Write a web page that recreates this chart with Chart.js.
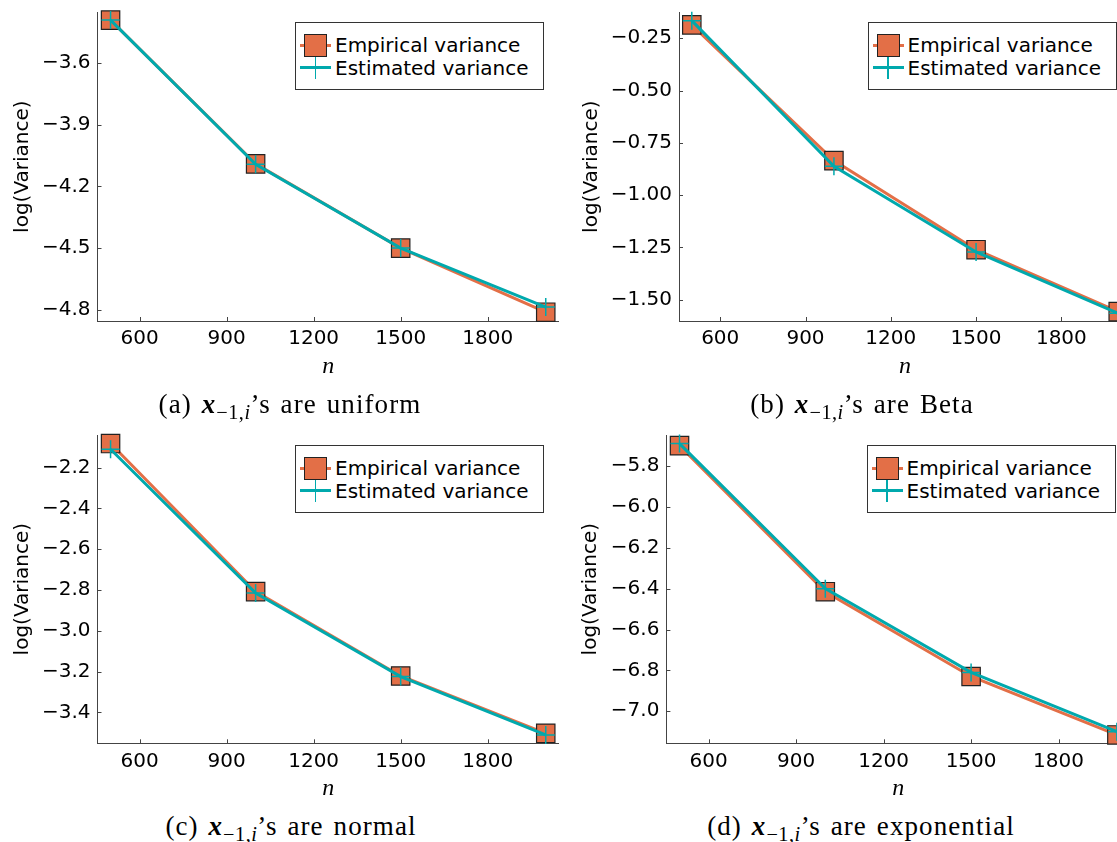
<!DOCTYPE html>
<html>
<head>
<meta charset="utf-8">
<script src="https://cdn.jsdelivr.net/npm/chart.js@4.4.1/dist/chart.umd.min.js"></script>
<style>
  html, body { margin: 0; padding: 0; background: #fff; }
  body { width: 1117px; height: 842px; overflow: hidden; position: relative; font-family: "DejaVu Sans", sans-serif; }
  .panel { position: absolute; }
  .panel canvas { position: absolute; left: 0; top: 0; }
  .legend { position: absolute; width: 249px; height: 68px; border: 1px solid #333; background: #fff; box-sizing: border-box; font-size: 20px; color: #000; }
  .row { position: absolute; left: 0; width: 100%; height: 22px; }
  .row span.txt { position: absolute; left: 39px; top: 0; line-height: 22px; white-space: nowrap; }
  .sym { position: absolute; left: 4px; top: 0; width: 31px; height: 22px; }
  .sym .ln { position: absolute; left: 0; top: 9.5px; width: 31px; height: 3px; }
  .sym .sq { position: absolute; left: 4px; top: -0.5px; width: 23px; height: 23px; box-sizing: border-box; border: 1.3px solid #222; }
  .sym .vl { position: absolute; left: 14.8px; top: 0; width: 1.5px; height: 22px; }
  .caption { position: absolute; height: 30px; line-height: 30px; font-family: "Liberation Serif", serif; font-size: 27px; letter-spacing: 1.1px; word-spacing: 2px; white-space: nowrap; transform: translateX(-50%); color: #000; }
  .caption sub { font-size: 0.75em; vertical-align: -0.3em; line-height: 0; letter-spacing: 0.5px; }
</style>
</head>
<body>
<div class="panel" id="pa"><canvas id="ca"></canvas></div>
<div class="panel" id="pb"><canvas id="cb"></canvas></div>
<div class="panel" id="pc"><canvas id="cc"></canvas></div>
<div class="panel" id="pd"><canvas id="cd"></canvas></div>

<script>
// sample sizes and tick labels
const nValues = [500, 1000, 1500, 2000];
const xTicks = [600, 900, 1200, 1500, 1800];
const xLimits = [455, 2045];

// (a) uniform
const empA = [-3.39, -4.09, -4.50, -4.812];
const estA = [-3.39, -4.092, -4.50, -4.787];
const yTicksA = [-4.8, -4.5, -4.2, -3.9, -3.6];
const yLimitsA = [-4.855, -3.352];

// (b) Beta
const empB = [-0.186, -0.835, -1.261, -1.557];
const estB = [-0.166, -0.862, -1.272, -1.565];
const yTicksB = [-1.50, -1.25, -1.00, -0.75, -0.50, -0.25];
const yLimitsB = [-1.602, -0.126];

// (c) normal
const empC = [-2.082, -2.808, -3.222, -3.503];
const estC = [-2.11, -2.815, -3.225, -3.511];
const yTicksC = [-3.4, -3.2, -3.0, -2.8, -2.6, -2.4, -2.2];
const yLimitsC = [-3.552, -2.04];

// (d) exponential
const empD = [-5.70, -6.415, -6.83, -7.116];
const estD = [-5.69, -6.40, -6.81, -7.10];
const yTicksD = [-7.0, -6.8, -6.6, -6.4, -6.2, -6.0, -5.8];
const yLimitsD = [-7.157, -5.648];

const seriesLabels = ["Empirical variance", "Estimated variance"];
const captions = ["uniform", "Beta", "normal", "exponential"];

const ORANGE = "#E36F47";
const TEAL = "#00A9AD";
const AXIS = "#444";

// inward tick marks, drawn under the data
const innerTicks = {
  id: "innerTicks",
  beforeDatasetsDraw(chart) {
    const { ctx, chartArea, scales: { x, y } } = chart;
    ctx.save();
    ctx.strokeStyle = AXIS;
    ctx.lineWidth = 1;
    x.ticks.forEach(t => {
      const px = Math.round(x.getPixelForValue(t.value)) + 0.5;
      ctx.beginPath();
      ctx.moveTo(px, chartArea.bottom);
      ctx.lineTo(px, chartArea.bottom - 4);
      ctx.stroke();
    });
    y.ticks.forEach(t => {
      const py = Math.round(y.getPixelForValue(t.value)) + 0.5;
      ctx.beginPath();
      ctx.moveTo(chartArea.left, py);
      ctx.lineTo(chartArea.left + 4, py);
      ctx.stroke();
    });
    ctx.restore();
  }
};

const panels = [
  { key: "a", left: 0,   top: 0,   w: 560, h: 380, padT: 12.3, padR: 1.2, yAxisW: 97.5,  xAxisH: 59,   yTitlePad: 11,   nPad: 1.5, emp: empA, est: estA, yTicks: yTicksA, yLim: yLimitsA, dec: 1, legL: 295,   legT: 22,  capX: 290, capT: 389 },
  { key: "b", left: 560, top: 0,   w: 580, h: 380, padT: 12.3, padR: 9,   yAxisW: 119,   xAxisH: 59,   yTitlePad: 20,   nPad: 1.5, emp: empB, est: estB, yTicks: yTicksB, yLim: yLimitsB, dec: 2, legL: 867.5, legT: 22,  capX: 862, capT: 389 },
  { key: "c", left: 0,   top: 420, w: 560, h: 380, padT: 15,   padR: 1.2, yAxisW: 97.5,  xAxisH: 56.7, yTitlePad: 11,   nPad: -1,  emp: empC, est: estC, yTicks: yTicksC, yLim: yLimitsC, dec: 1, legL: 295,   legT: 445, capX: 291, capT: 811 },
  { key: "d", left: 560, top: 420, w: 580, h: 380, padT: 15,   padR: 10,  yAxisW: 106.4, xAxisH: 56.7, yTitlePad: 18.4, nPad: -1,  emp: empD, est: estD, yTicks: yTicksD, yLim: yLimitsD, dec: 1, legL: 866.5, legT: 445, capX: 861, capT: 811 }
];

function fmt(v, dec) {
  return v.toFixed(dec).replace("-", "\u2212");
}

function buildLegend(p) {
  const box = document.createElement("div");
  box.className = "legend";
  box.style.left = p.legL + "px";
  box.style.top = p.legT + "px";
  box.innerHTML = `
    <div class="row" style="top:11px">
      <div class="sym"><div class="ln" style="background:${ORANGE}"></div><div class="sq" style="background:${ORANGE}"></div></div>
      <span class="txt">${seriesLabels[0]}</span>
    </div>
    <div class="row" style="top:33.5px">
      <div class="sym"><div class="ln" style="background:${TEAL}"></div><div class="vl" style="background:${TEAL}"></div></div>
      <span class="txt">${seriesLabels[1]}</span>
    </div>`;
  document.body.appendChild(box);
}

function buildCaption(p, i) {
  const cap = document.createElement("div");
  cap.className = "caption";
  cap.style.left = p.capX + "px";
  cap.style.top = p.capT + "px";
  cap.innerHTML = `(${p.key}) <b><i>x</i></b><sub>\u22121,<i>i</i></sub>\u2019s are ${captions[i]}`;
  document.body.appendChild(cap);
}

panels.forEach((p, i) => {
  const wrap = document.getElementById("p" + p.key);
  wrap.style.left = p.left + "px";
  wrap.style.top = p.top + "px";
  wrap.style.width = p.w + "px";
  wrap.style.height = p.h + "px";
  const canvas = document.getElementById("c" + p.key);
  canvas.width = p.w;
  canvas.height = p.h;
  canvas.style.width = p.w + "px";
  canvas.style.height = p.h + "px";

  new Chart(canvas, {
    type: "line",
    data: {
      datasets: [
        {
          label: seriesLabels[0],
          data: nValues.map((n, k) => ({ x: n, y: p.emp[k] })),
          borderColor: ORANGE,
          backgroundColor: ORANGE,
          borderWidth: 3,
          pointStyle: "rect",
          pointRadius: 13,
          pointBackgroundColor: ORANGE,
          pointBorderColor: "#222",
          pointBorderWidth: 1.2,
          tension: 0,
          clip: false,
          order: 1
        },
        {
          label: seriesLabels[1],
          data: nValues.map((n, k) => ({ x: n, y: p.est[k] })),
          borderColor: TEAL,
          backgroundColor: TEAL,
          borderWidth: 3,
          pointStyle: "cross",
          pointRadius: 9,
          pointBorderColor: TEAL,
          pointBorderWidth: 1.5,
          tension: 0,
          clip: false,
          order: 0
        }
      ]
    },
    options: {
      responsive: false,
      animation: false,
      devicePixelRatio: 1,
      events: [],
      layout: { autoPadding: false, padding: { top: p.padT, right: p.padR, bottom: 0, left: 0 } },
      plugins: { legend: { display: false }, tooltip: { enabled: false } },
      scales: {
        x: {
          type: "linear",
          min: xLimits[0],
          max: xLimits[1],
          afterBuildTicks: s => { s.ticks = xTicks.map(v => ({ value: v })); },
          afterFit: s => { s.height = p.xAxisH; s.paddingLeft = 0; s.paddingRight = 0; },
          grid: { display: false, drawTicks: false },
          border: { display: true, color: AXIS, width: 1 },
          ticks: {
            padding: 6,
            autoSkip: false,
            maxRotation: 0,
            color: "#000",
            font: { family: "DejaVu Sans", size: 20 },
            callback: v => String(v)
          },
          title: {
            display: true,
            text: "n",
            color: "#000",
            font: { family: "Liberation Serif", style: "italic", size: 24, lineHeight: 1 },
            padding: { top: 0, bottom: p.nPad }
          }
        },
        y: {
          type: "linear",
          min: p.yLim[0],
          max: p.yLim[1],
          afterBuildTicks: s => { s.ticks = p.yTicks.map(v => ({ value: v })); },
          afterFit: s => { s.width = p.yAxisW; s.paddingTop = 0; s.paddingBottom = 0; },
          grid: { display: false, drawTicks: false },
          border: { display: true, color: AXIS, width: 1 },
          ticks: {
            padding: 7,
            autoSkip: false,
            color: "#000",
            font: { family: "DejaVu Sans", size: 20 },
            callback: v => fmt(v, p.dec)
          },
          title: {
            display: true,
            text: "log(Variance)",
            color: "#000",
            font: { family: "DejaVu Sans", size: 20 },
            padding: { top: p.yTitlePad, bottom: 0 }
          }
        }
      }
    },
    plugins: [innerTicks]
  });

  buildLegend(p);
  buildCaption(p, i);
});
</script>
</body>
</html>
